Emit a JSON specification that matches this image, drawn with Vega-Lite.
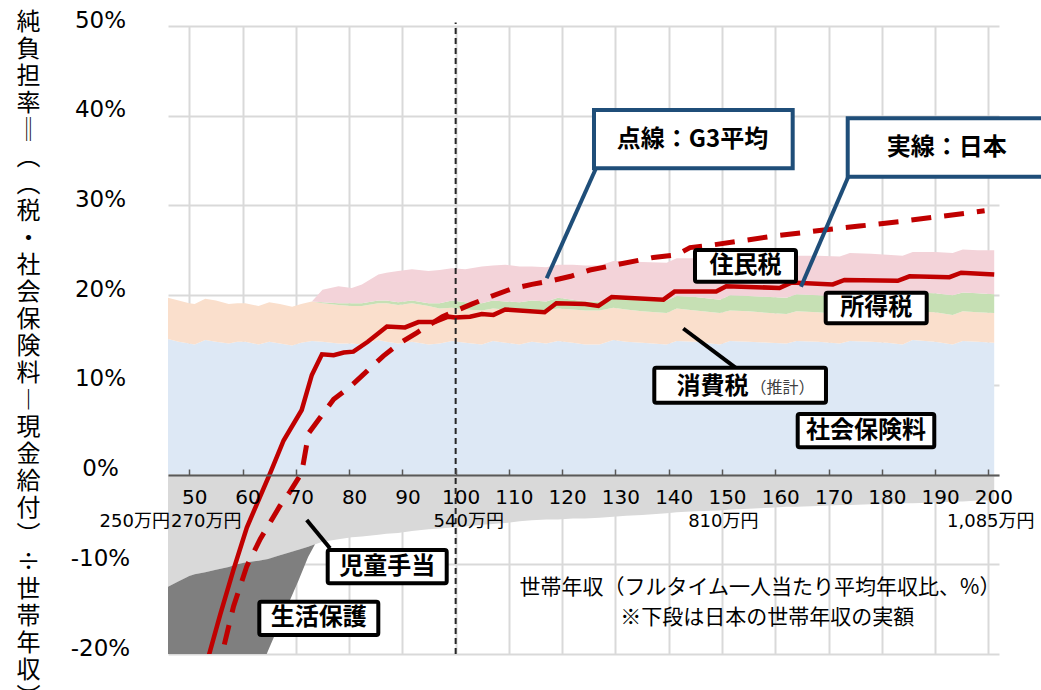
{
"$schema": "https://vega.github.io/schema/vega-lite/v6.json",
"width": 831,
"height": 628,
"autosize": {"type": "none"},
"padding": {"left": 168, "top": 26, "right": 42, "bottom": 36},
"background": "#ffffff",
"config": {"view": {"stroke": null}},
"datasets": {
"bands": [
{"x":46,"ss":15.1,"ct":19.7,"it":19.7,"rt":19.7,"cb":-12.5},
{"x":48,"ss":14.8,"ct":19.4,"it":19.4,"rt":19.4,"cb":-11.9},
{"x":50,"ss":14.6,"ct":19.1,"it":19.1,"rt":19.1,"cb":-11.3},
{"x":51,"ss":14.5,"ct":19.0,"it":19.0,"rt":19.0,"cb":-11.1},
{"x":53,"ss":15.0,"ct":19.6,"it":19.6,"rt":19.6,"cb":-10.9},
{"x":55,"ss":14.8,"ct":19.4,"it":19.4,"rt":19.4,"cb":-10.6},
{"x":57.4,"ss":14.6,"ct":19.0,"it":19.0,"rt":19.0,"cb":-10.3},
{"x":59,"ss":14.8,"ct":19.1,"it":19.1,"rt":19.1,"cb":-10.0},
{"x":60.5,"ss":14.8,"ct":19.1,"it":19.1,"rt":19.1,"cb":-9.8},
{"x":63,"ss":14.5,"ct":18.8,"it":18.8,"rt":18.8,"cb":-9.6},
{"x":65,"ss":14.8,"ct":19.2,"it":19.2,"rt":19.2,"cb":-9.4},
{"x":67,"ss":14.6,"ct":19.0,"it":19.0,"rt":19.0,"cb":-9.0},
{"x":69.3,"ss":14.4,"ct":18.7,"it":18.7,"rt":18.7,"cb":-8.6},
{"x":71,"ss":14.7,"ct":19.0,"it":19.0,"rt":19.0,"cb":-8.3},
{"x":73,"ss":14.9,"ct":19.3,"it":19.3,"rt":19.3,"cb":-7.9},
{"x":75,"ss":14.8,"ct":19.1,"it":19.2,"rt":20.6,"cb":-7.5},
{"x":78,"ss":14.6,"ct":18.9,"it":19.1,"rt":21.0,"cb":-7.2},
{"x":80.5,"ss":14.6,"ct":18.8,"it":19.1,"rt":20.8,"cb":-7.0},
{"x":82.4,"ss":14.5,"ct":18.8,"it":19.1,"rt":21.2,"cb":-6.9},
{"x":85.5,"ss":15.0,"ct":19.1,"it":19.4,"rt":22.3,"cb":-6.7},
{"x":87,"ss":14.8,"ct":19.1,"it":19.4,"rt":22.5,"cb":-6.6},
{"x":89.2,"ss":14.6,"ct":18.9,"it":19.2,"rt":22.7,"cb":-6.5},
{"x":91.8,"ss":14.8,"ct":19.1,"it":19.4,"rt":22.9,"cb":-6.3},
{"x":94.9,"ss":14.5,"ct":18.8,"it":19.1,"rt":22.7,"cb":-6.1},
{"x":97,"ss":14.6,"ct":18.5,"it":19.1,"rt":22.8,"cb":-6.0},
{"x":99.3,"ss":14.9,"ct":18.6,"it":19.4,"rt":23.0,"cb":-5.9},
{"x":101.8,"ss":14.7,"ct":18.4,"it":19.2,"rt":22.9,"cb":-5.8},
{"x":104.9,"ss":14.5,"ct":18.3,"it":19.1,"rt":23.2,"cb":-5.6},
{"x":107,"ss":14.9,"ct":18.5,"it":19.4,"rt":23.3,"cb":-5.5},
{"x":109.3,"ss":14.7,"ct":18.4,"it":19.3,"rt":23.4,"cb":-5.4},
{"x":112,"ss":14.5,"ct":18.3,"it":19.2,"rt":23.2,"cb":-5.2},
{"x":114.3,"ss":14.8,"ct":18.4,"it":19.4,"rt":23.2,"cb":-5.1},
{"x":117,"ss":14.6,"ct":18.3,"it":19.3,"rt":23.1,"cb":-5.0},
{"x":119.2,"ss":14.9,"ct":18.5,"it":19.7,"rt":23.4,"cb":-5.0},
{"x":122,"ss":14.7,"ct":18.4,"it":19.5,"rt":23.4,"cb":-4.9},
{"x":124.3,"ss":14.5,"ct":18.3,"it":19.3,"rt":23.3,"cb":-4.9},
{"x":127,"ss":14.5,"ct":18.3,"it":19.3,"rt":23.3,"cb":-4.8},
{"x":129.6,"ss":15.0,"ct":18.6,"it":19.8,"rt":23.8,"cb":-4.7},
{"x":132,"ss":14.8,"ct":18.4,"it":19.7,"rt":23.8,"cb":-4.6},
{"x":135,"ss":14.7,"ct":18.2,"it":19.6,"rt":23.7,"cb":-4.5},
{"x":139.6,"ss":14.5,"ct":18.0,"it":19.4,"rt":23.6,"cb":-4.3},
{"x":141.5,"ss":14.9,"ct":18.5,"it":19.9,"rt":24.1,"cb":-4.2},
{"x":145,"ss":14.8,"ct":18.3,"it":19.8,"rt":24.1,"cb":-4.1},
{"x":149.6,"ss":14.5,"ct":18.0,"it":19.5,"rt":23.9,"cb":-4.0},
{"x":151.5,"ss":14.9,"ct":18.3,"it":20.0,"rt":24.3,"cb":-3.9},
{"x":155,"ss":14.8,"ct":18.2,"it":19.9,"rt":24.3,"cb":-3.8},
{"x":159,"ss":14.7,"ct":18.0,"it":19.8,"rt":24.2,"cb":-3.7},
{"x":162.1,"ss":14.6,"ct":17.9,"it":19.7,"rt":24.1,"cb":-3.6},
{"x":164,"ss":14.9,"ct":18.2,"it":20.1,"rt":24.4,"cb":-3.6},
{"x":168,"ss":14.8,"ct":18.1,"it":20.0,"rt":24.4,"cb":-3.5},
{"x":172.1,"ss":14.6,"ct":17.9,"it":19.8,"rt":24.3,"cb":-3.4},
{"x":174,"ss":14.9,"ct":18.2,"it":20.2,"rt":24.7,"cb":-3.4},
{"x":178,"ss":14.8,"ct":18.1,"it":20.1,"rt":24.6,"cb":-3.3},
{"x":181,"ss":14.7,"ct":18.0,"it":20.0,"rt":24.5,"cb":-3.3},
{"x":183.9,"ss":14.5,"ct":17.8,"it":19.9,"rt":24.4,"cb":-3.2},
{"x":185.8,"ss":15.0,"ct":18.2,"it":20.3,"rt":24.8,"cb":-3.2},
{"x":190,"ss":14.8,"ct":18.1,"it":20.2,"rt":24.8,"cb":-3.1},
{"x":193.3,"ss":14.5,"ct":17.8,"it":20.0,"rt":24.7,"cb":-3.0},
{"x":195.2,"ss":14.9,"ct":18.2,"it":20.3,"rt":25.1,"cb":-3.0},
{"x":198,"ss":14.8,"ct":18.1,"it":20.2,"rt":25.0,"cb":-2.9},
{"x":201.1,"ss":14.7,"ct":18.0,"it":20.1,"rt":25.0,"cb":-2.9}
],
"seikatsu": [
{"x":46,"top":-12.5,"bottom":-40},
{"x":48,"top":-11.9,"bottom":-38},
{"x":50,"top":-11.3,"bottom":-36},
{"x":51,"top":-11.1,"bottom":-35},
{"x":53,"top":-10.9,"bottom":-33},
{"x":55,"top":-10.6,"bottom":-30},
{"x":57.4,"top":-10.3,"bottom":-28},
{"x":59,"top":-10.0,"bottom":-26.5},
{"x":60.5,"top":-9.8,"bottom":-25},
{"x":63,"top":-9.6,"bottom":-22.3},
{"x":64.8,"top":-9.42,"bottom":-19.6},
{"x":66.7,"top":-9.06,"bottom":-17.0},
{"x":68.6,"top":-8.72,"bottom":-14.4},
{"x":70.5,"top":-8.39,"bottom":-11.8},
{"x":72.3,"top":-8.04,"bottom":-9.2},
{"x":73.6,"top":-7.78,"bottom":-7.78}
],
"jp": [
{"x":52,"y":-23.6},{"x":53.6,"y":-20.3},{"x":55.8,"y":-15.6},{"x":58.3,"y":-10.6},{"x":60.8,"y":-5.9},
{"x":65.2,"y":0.2},{"x":67.7,"y":3.8},{"x":71.1,"y":7.2},{"x":73.0,"y":11.1},{"x":74.9,"y":13.4},
{"x":77.1,"y":13.3},{"x":79.0,"y":13.6},{"x":80.8,"y":13.7},{"x":83.5,"y":14.8},{"x":87.1,"y":16.5},
{"x":90.5,"y":16.4},{"x":93.0,"y":17.0},{"x":96.1,"y":17.0},{"x":98.6,"y":17.6},{"x":99.9,"y":17.5},
{"x":102.7,"y":17.6},{"x":104.9,"y":17.9},{"x":107.1,"y":17.8},{"x":109.3,"y":18.4},{"x":116.7,"y":18.1},
{"x":118.9,"y":19.1},{"x":124.3,"y":19.0},{"x":126.8,"y":18.8},{"x":129.3,"y":19.8},{"x":139.0,"y":19.5},
{"x":141.1,"y":20.4},{"x":148.9,"y":20.4},{"x":150.8,"y":21.0},{"x":160.8,"y":20.8},{"x":163.0,"y":21.4},
{"x":170.8,"y":21.2},{"x":173.0,"y":21.7},{"x":183.0,"y":21.6},{"x":185.2,"y":22.1},{"x":192.7,"y":22.0},
{"x":194.9,"y":22.5},{"x":201.1,"y":22.3}
],
"g3": [
{"x":55.0,"y":-22.5},{"x":56.1,"y":-20.1},{"x":58.3,"y":-14.7},{"x":60.8,"y":-10.2},{"x":63.3,"y":-7.2},
{"x":67.0,"y":-3.5},{"x":68.9,"y":-1.9},{"x":71.1,"y":0.2},{"x":72.4,"y":4.6},{"x":74.5,"y":6.3},
{"x":77.1,"y":8.4},{"x":80.2,"y":9.8},{"x":83.3,"y":11.5},{"x":86.4,"y":13.2},{"x":89.4,"y":14.6},
{"x":92.7,"y":15.8},{"x":97.5,"y":17.6},{"x":103.0,"y":19.0},{"x":106.8,"y":19.9},{"x":110.5,"y":20.7},
{"x":114.3,"y":21.2},{"x":118.0,"y":21.6},{"x":121.6,"y":22.1},{"x":125.2,"y":22.8},{"x":137.1,"y":24.2},
{"x":141.5,"y":24.5},{"x":144.0,"y":25.3},{"x":148.3,"y":25.6},{"x":160.0,"y":26.6},{"x":168.3,"y":27.2},
{"x":175.8,"y":27.7},{"x":183.3,"y":28.2},{"x":191.4,"y":28.8},{"x":199.3,"y":29.4}
],
"vline": [{"x":100,"y":-20,"y2":50.4}],
"leadBlack": [{"x":142.73,"y":16.28,"x2":152.53,"y2":11.93},{"x":72.04,"y":-5.07,"x2":76.41,"y2":-8.22}],
"leadBlue": [{"x":126.35,"y":34.14,"x2":117.09,"y2":21.88},{"x":173.71,"y":33.2,"x2":164.83,"y2":20.94}],
"boxBlack": [
{"name":"住民税","x":144.93,"x2":163.89,"y":25.03,"y2":21.5},
{"name":"所得税","x":169.47,"x2":188.43,"y":20.27,"y2":16.86},
{"name":"消費税","x":137.29,"x2":169.52,"y":11.91,"y2":8.01},
{"name":"社会保険料","x":164.21,"x2":189.85,"y":6.75,"y2":3.04},
{"name":"児童手当","x":75.98,"x2":98.32,"y":-8.41,"y2":-12.12},
{"name":"生活保護","x":63.14,"x2":85.48,"y":-14.17,"y2":-17.89}
],
"boxBlue": [
{"name":"点線：G3平均","x":125.97,"x2":163.27,"y":40.64,"y2":34.14},
{"name":"実線：日本","x":173.6,"x2":210.8,"y":39.71,"y2":33.2}
],
"tags": [
{"t":"住民税","x":154.41,"y":23.25},
{"t":"所得税","x":178.95,"y":18.57},
{"t":"消費税","x":148.22,"y":9.79},
{"t":"社会保険料","x":177.03,"y":4.85},
{"t":"児童手当","x":87.15,"y":-10.27},
{"t":"生活保護","x":74.31,"y":-16.02},
{"t":"点線：G3平均","x":144.46,"y":37.29},
{"t":"実線：日本","x":192.18,"y":36.4}
],
"note": [{"t":"（推計）","x":161.36,"y":9.65}],
"yen": [
{"t":"250万円","x":39.75,"y":-5.26},
{"t":"270万円","x":53.17,"y":-5.26},
{"t":"540万円","x":102.45,"y":-5.26},
{"t":"810万円","x":150.25,"y":-5.26},
{"t":"1,085万円","x":200.46,"y":-5.26}
],
"xtitle": [
{"t":"世帯年収（フルタイム一人当たり平均年収比、%）","x":157.13,"y":-12.65},
{"t":"※下段は日本の世帯年収の実額","x":158.5,"y":-15.99}
]
},
"layer": [
{"data":{"name":"bands"},"mark":{"type":"area","color":"#dde8f5"},
 "encoding":{
  "x":{"field":"x","type":"quantitative","scale":{"domain":[46,202],"nice":false,"zero":false},
       "axis":{"values":[50,60,70,80,90,100,110,120,130,140,150,160,170,180,190,200],"grid":true,"gridColor":"#d9d9d9","gridWidth":2,"labels":false,"ticks":false,"domain":false,"title":null,"orient":"bottom","zindex":0}},
  "y":{"field":"ss","type":"quantitative","scale":{"domain":[-20,50],"nice":false,"zero":false},
       "axis":{"orient":"left","values":[-20,-10,0,10,20,30,40,50],"grid":true,"gridColor":"#d9d9d9","gridWidth":2,"domain":false,"ticks":false,"tickSize":0,
               "labelExpr":"datum.value + '%'","labelFont":"DejaVu Sans","labelFontSize":23,"labelColor":"#000000","labelAlign":"center","labelBaseline":"middle","labelPadding":68,"labelOffset":-6,
               "title":["純","負","担","率","‖","︵","︵","税","・","社","会","保","険","料","︱","現","金","給","付","︶","÷","世","帯","年","収","︶"],
               "titleAngle":0,"titleAlign":"center","titleBaseline":"top","titleX":-140,"titleY":-16,"titleFont":"Noto Sans CJK JP","titleFontSize":24,"titleFontWeight":"normal","titleLineHeight":27,"titleColor":"#000000","zindex":0}},
  "y2":{"datum":0}}},
{"data":{"name":"bands"},"mark":{"type":"area","color":"#fadfcc"},
 "encoding":{"x":{"field":"x","type":"quantitative","axis":null},"y":{"field":"ct","type":"quantitative","axis":null},"y2":{"field":"ss"}}},
{"data":{"name":"bands"},"mark":{"type":"area","color":"#c6e0b4"},
 "encoding":{"x":{"field":"x","type":"quantitative","axis":null},"y":{"field":"it","type":"quantitative","axis":null},"y2":{"field":"ct"}}},
{"data":{"name":"bands"},"mark":{"type":"area","color":"#f3d3d9"},
 "encoding":{"x":{"field":"x","type":"quantitative","axis":null},"y":{"field":"rt","type":"quantitative","axis":null},"y2":{"field":"it"}}},
{"data":{"name":"bands"},"mark":{"type":"area","color":"#d9d9d9"},
 "encoding":{"x":{"field":"x","type":"quantitative","axis":null},"y":{"field":"cb","type":"quantitative","axis":null},"y2":{"datum":0}}},
{"data":{"name":"seikatsu"},"mark":{"type":"area","color":"#7f7f7f","clip":true},
 "encoding":{"x":{"field":"x","type":"quantitative","axis":null},"y":{"field":"bottom","type":"quantitative","axis":null},"y2":{"field":"top"}}},
{"data":{"name":"g3"},"mark":{"type":"line","color":"#c00000","strokeWidth":5,"strokeDash":[20,13],"clip":true},
 "encoding":{"x":{"field":"x","type":"quantitative","axis":null},"y":{"field":"y","type":"quantitative","axis":null}}},
{"data":{"name":"jp"},"mark":{"type":"line","color":"#c00000","strokeWidth":4.5,"clip":true},
 "encoding":{"x":{"field":"x","type":"quantitative","axis":null},"y":{"field":"y","type":"quantitative","axis":null}}},
{"data":{"name":"vline"},"mark":{"type":"rule","color":"#262626","strokeWidth":2,"strokeDash":[6,4]},
 "encoding":{
  "x":{"field":"x","type":"quantitative",
       "axis":{"values":[50,60,70,80,90,100,110,120,130,140,150,160,170,180,190,200],"orient":"bottom","offset":-179,"grid":false,
               "domain":true,"domainColor":"#595959","domainWidth":2,"ticks":true,"tickSize":-6,"tickColor":"#595959","tickWidth":1.5,
               "labelFont":"DejaVu Sans","labelFontSize":20,"labelColor":"#000000","labelBaseline":"middle","labelPadding":28,"labelOffset":5,
               "labelFlush":false,"labelOverlap":false,"title":null,"zindex":1}},
  "y":{"field":"y","type":"quantitative","axis":null},"y2":{"field":"y2"}}},
{"data":{"name":"leadBlack"},"mark":{"type":"rule","color":"#000000","strokeWidth":4},
 "encoding":{"x":{"field":"x","type":"quantitative","axis":null},"y":{"field":"y","type":"quantitative","axis":null},"x2":{"field":"x2"},"y2":{"field":"y2"}}},
{"data":{"name":"leadBlue"},"mark":{"type":"rule","color":"#1f4e79","strokeWidth":4},
 "encoding":{"x":{"field":"x","type":"quantitative","axis":null},"y":{"field":"y","type":"quantitative","axis":null},"x2":{"field":"x2"},"y2":{"field":"y2"}}},
{"data":{"name":"boxBlack"},"mark":{"type":"rect","fill":"#ffffff","stroke":"#000000","strokeWidth":4,"cornerRadius":2},
 "encoding":{"x":{"field":"x","type":"quantitative","axis":null},"x2":{"field":"x2"},"y":{"field":"y","type":"quantitative","axis":null},"y2":{"field":"y2"}}},
{"data":{"name":"boxBlue"},"mark":{"type":"rect","fill":"#ffffff","stroke":"#1f4e79","strokeWidth":4},
 "encoding":{"x":{"field":"x","type":"quantitative","axis":null},"x2":{"field":"x2"},"y":{"field":"y","type":"quantitative","axis":null},"y2":{"field":"y2"}}},
{"data":{"name":"tags"},"mark":{"type":"text","font":"Noto Sans CJK JP","fontWeight":"bold","fontSize":24,"color":"#000000","align":"center","baseline":"middle"},
 "encoding":{"x":{"field":"x","type":"quantitative","axis":null},"y":{"field":"y","type":"quantitative","axis":null},"text":{"field":"t"}}},
{"data":{"name":"note"},"mark":{"type":"text","font":"Noto Sans CJK JP","fontSize":16,"color":"#404040","align":"center","baseline":"middle"},
 "encoding":{"x":{"field":"x","type":"quantitative","axis":null},"y":{"field":"y","type":"quantitative","axis":null},"text":{"field":"t"}}},
{"data":{"name":"yen"},"mark":{"type":"text","font":"DejaVu Sans, Noto Sans CJK JP","fontSize":18,"color":"#000000","align":"center","baseline":"middle"},
 "encoding":{"x":{"field":"x","type":"quantitative","axis":null},"y":{"field":"y","type":"quantitative","axis":null},"text":{"field":"t"}}},
{"data":{"name":"xtitle"},"mark":{"type":"text","font":"Noto Sans CJK JP","fontSize":21,"color":"#000000","align":"center","baseline":"middle"},
 "encoding":{"x":{"field":"x","type":"quantitative","axis":null},"y":{"field":"y","type":"quantitative","axis":null},"text":{"field":"t"}}}
],
"resolve":{"axis":{"x":"independent","y":"independent"}}
}
